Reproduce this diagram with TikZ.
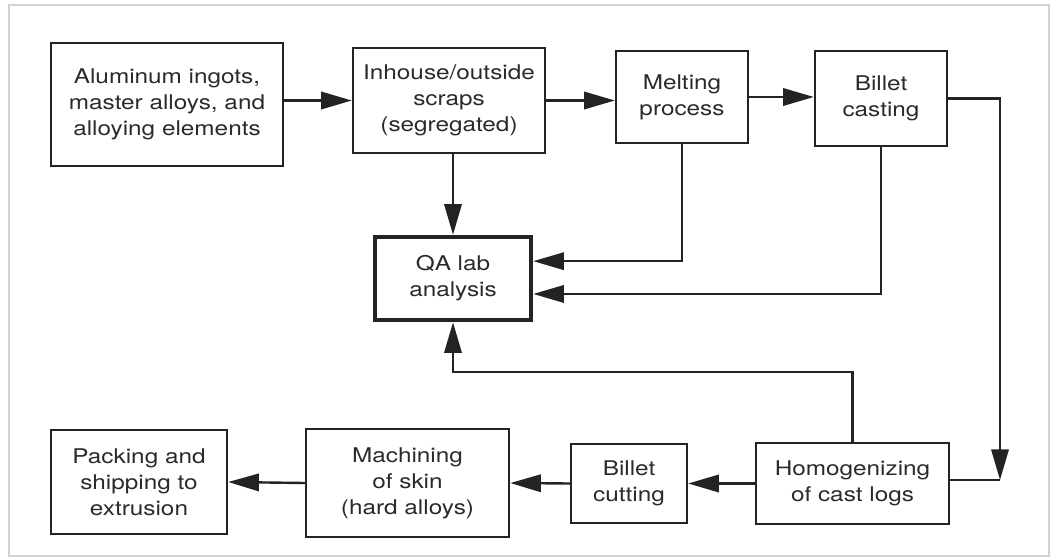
\documentclass[tikz,border=0pt]{standalone}
\usepackage{fontspec}
\setmainfont{TeX Gyre Heros}[FakeStretch=1.2]
\usetikzlibrary{arrows.meta}
\definecolor{ink}{HTML}{232323}
\definecolor{txt}{HTML}{2a2a2a}
\tikzset{
  box/.style={draw=ink, line width=1.8pt, fill=white, align=center, inner sep=0pt,
    text=txt, font=\fontsize{15.2pt}{19.5pt}\selectfont},
  qabox/.style={box, line width=3.4pt},
  arr/.style={draw=ink, line width=1.8pt, -{Triangle[length=23pt,width=13pt]}},
  link/.style={draw=ink, line width=1.8pt},
}
\begin{document}
\begin{tikzpicture}[x=0.75pt,y=-0.75pt]
\useasboundingbox (0,0) rectangle (1056,560);
% outer frame
\draw[gray!35, line width=1.6pt] (9,5) rectangle (1049,556);

% process steps
\node[box, minimum width=174pt, minimum height=92.25pt] (alu) at (167,104.5)
  {Aluminum ingots,\\master alloys, and\\alloying elements};
\node[box, minimum width=144pt, minimum height=78.75pt] (scr) at (449,100.5)
  {Inhouse/outside\\scraps\\(segregated)};
\node[box, minimum width=99pt, minimum height=69pt] (melt) at (682,97)
  {Melting\\process};
\node[box, minimum width=99pt, minimum height=71.25pt] (cast) at (881,98.5)
  {Billet\\casting};
\node[qabox, minimum width=117pt, minimum height=62.25pt] (qa) at (453,278.5)
  {QA lab\\analysis};
\node[box, minimum width=144.75pt, minimum height=60.75pt] (homo) at (852.5,483.5)
  {Homogenizing\\of cast logs};
\node[box, minimum width=87pt, minimum height=59.25pt] (cut) at (629,483.5)
  {Billet\\cutting};
\node[box, minimum width=152.25pt, minimum height=81pt] (mach) at (407.5,483)
  {Machining\\of skin\\(hard alloys)};
\node[box, minimum width=132pt, minimum height=78pt] (pack) at (139,482)
  {Packing and\\shipping to\\extrusion};

% helper points for the routed lines
\coordinate (turn) at (1000,480);
\coordinate (fb) at (0,372);

% main flow
\draw[arr] (alu.east |- scr.west) -- (scr.west);
\draw[arr] (scr.east) -- (scr.east -| melt.west);
\draw[arr] (melt.east) -- (melt.east -| cast.west);
\draw[arr] (cast.east) -| (turn);
\draw[link] (turn) -- (turn -| homo.east);
\draw[arr] (homo.west) -- (cut.east);
\draw[arr] (cut.west) -- (mach.east);
\draw[arr] (mach.west) -- (pack.east);

% samples sent to the lab
\draw[arr] (qa.north |- scr.south) -- (qa.north);
\draw[arr] (melt.south) |- ([yshift=13pt]qa.east);
\draw[arr] (cast.south) |- ([yshift=-11.6pt]qa.east);
\draw[arr] (homo.north) -- (homo.north |- fb) -| (qa.south);
\end{tikzpicture}
\end{document}
